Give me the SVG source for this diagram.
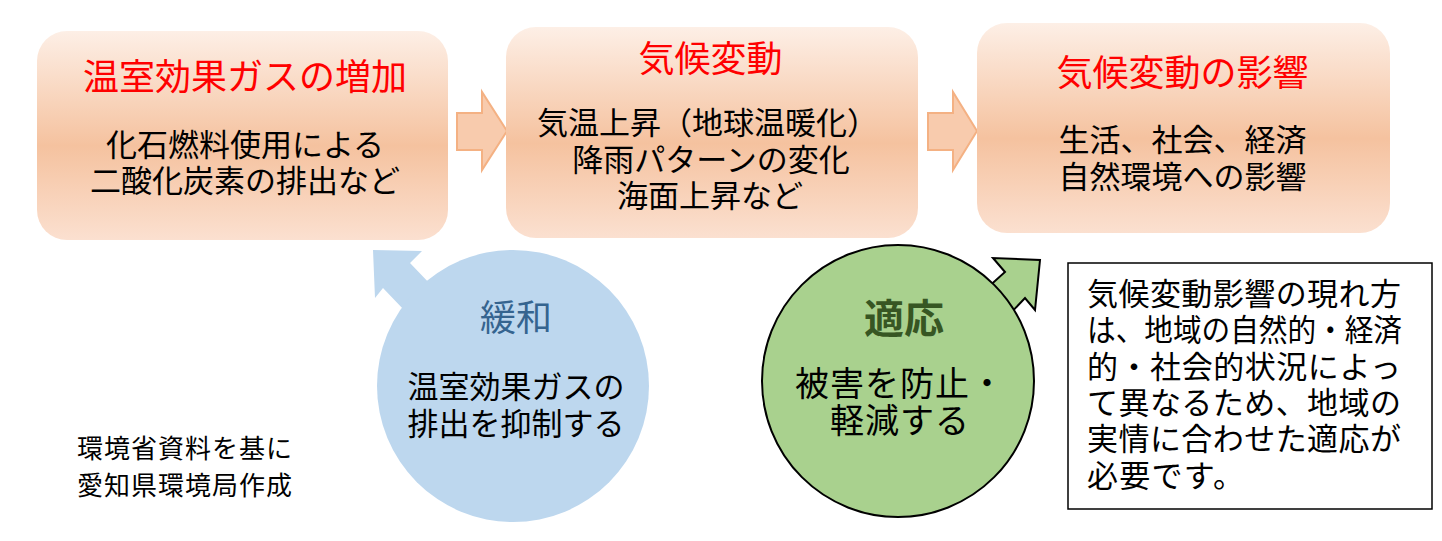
<svg xmlns="http://www.w3.org/2000/svg" width="1442" height="541" viewBox="0 0 1442 541">
<defs>
<linearGradient id="boxGrad" x1="0" y1="0" x2="0" y2="1">
<stop offset="0" stop-color="#fdefe6"/>
<stop offset="0.55" stop-color="#f5c29f"/>
<stop offset="1" stop-color="#fbe0d0"/>
</linearGradient>
<style>
text{font-family:"Noto Sans CJK JP","Noto Sans CJK SC",sans-serif;fill:#000;}
.title{font-size:36px;fill:#ff0000;text-anchor:middle;}
.body{font-size:31px;text-anchor:middle;}
.box{fill:url(#boxGrad);}
.flow{fill:#f8cbad;stroke:#f4b183;stroke-width:2;}
.note{font-size:31px;}
.foot{font-size:26px;letter-spacing:1px;}
.adapt{font-size:34px;letter-spacing:1px;}
</style>
</defs>
<rect width="1442" height="541" fill="#ffffff"/>
<g id="connectors">
<polygon class="flow" points="457,113 482,113 482,92 507,131 482,170 482,150 457,150"/>
<polygon class="flow" points="928,113 953,113 953,92 977,131 953,170 953,150 928,150"/>
<polygon fill="#bdd7ee" points="432,286 410,263 422,251 373,250 375,298 383,288 405,311"/>
<polygon fill="#a9d18e" stroke="#000" stroke-width="2" stroke-linejoin="miter" points="985,290 1005,272 993,258 1040,260 1035,310 1025,298 1008,316"/>
</g>
<g id="box1">
<rect class="box" x="37" y="31" width="411" height="209" rx="30"/>
<text class="title" x="245" y="90">温室効果ガスの増加</text>
<text class="body" x="245" y="156">化石燃料使用による</text>
<text class="body" x="245" y="192">二酸化炭素の排出など</text>
</g>
<g id="box2">
<rect class="box" x="506" y="27" width="412" height="211" rx="30"/>
<text class="title" x="710.5" y="72">気候変動</text>
<text class="body" x="707.5" y="134">気温上昇（地球温暖化）</text>
<text class="body" x="711" y="171">降雨パターンの変化</text>
<text class="body" x="710" y="207">海面上昇など</text>
</g>
<g id="box3">
<rect class="box" x="977" y="23" width="413" height="210" rx="30"/>
<text class="title" x="1182.5" y="86">気候変動の影響</text>
<text class="body" x="1182.5" y="151">生活、社会、経済</text>
<text class="body" x="1182.5" y="188">自然環境への影響</text>
</g>
<g id="mitigation">
<circle cx="513" cy="386" r="136" fill="#bdd7ee"/>
<text x="516" y="331" style="font-size:36px;fill:#35648f;text-anchor:middle">緩和</text>
<text class="body" x="516" y="398">温室効果ガスの</text>
<text class="body" x="516" y="435">排出を抑制する</text>
</g>
<g id="adaptation">
<circle cx="898" cy="381" r="136" fill="#a9d18e" stroke="#000" stroke-width="2"/>
<text x="904" y="333" style="font-size:40px;font-weight:bold;fill:#375623;text-anchor:middle">適応</text>
<text class="adapt" x="795" y="396">被害を防止・</text>
<text class="adapt" x="830" y="433">軽減する</text>
</g>
<g id="note">
<rect x="1068" y="263" width="364" height="246" fill="#ffffff" stroke="#000" stroke-width="1.5"/>
<text class="note" x="1087" y="305" textLength="314">気候変動影響の現れ方</text>
<text class="note" x="1087" y="341" textLength="315" lengthAdjust="spacingAndGlyphs">は、地域の自然的・経済</text>
<text class="note" x="1087" y="378" textLength="314">的・社会的状況によっ</text>
<text class="note" x="1087" y="414" textLength="314">て異なるため、地域の</text>
<text class="note" x="1087" y="450" textLength="314">実情に合わせた適応が</text>
<text class="note" x="1087" y="487" textLength="157">必要です。</text>
</g>
<g id="credit">
<text class="foot" x="77" y="458">環境省資料を基に</text>
<text class="foot" x="77" y="495">愛知県環境局作成</text>
</g>
</svg>
